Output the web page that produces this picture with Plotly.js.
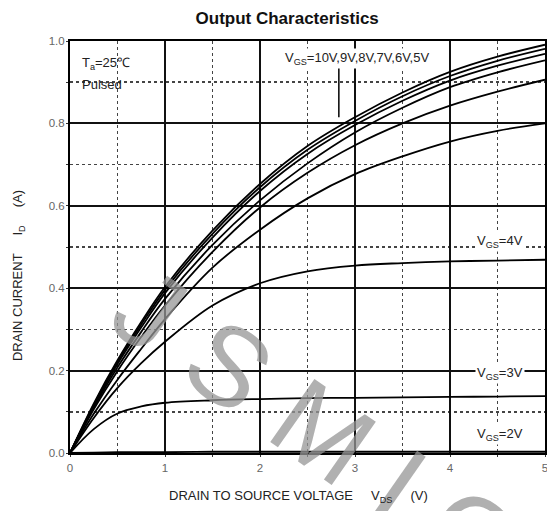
<!DOCTYPE html>
<html>
<head>
<meta charset="utf-8">
<script src="https://cdn.plot.ly/plotly-3.0.1.min.js"></script>
<style>html,body{margin:0;padding:0;background:#fff;}#chart{width:547px;height:511px;}</style>
</head>
<body>
<div id="chart"></div>
<script>
// Drain-source voltage samples (V)
const vds = [0, 0.25, 0.5, 0.75, 1, 1.5, 2, 2.5, 3, 3.5, 4, 4.5, 5];
// Drain current (A) for each gate voltage
const id10 = [0, 0.12, 0.225, 0.318, 0.403, 0.54, 0.653, 0.745, 0.815, 0.875, 0.925, 0.962, 0.991];
const id9  = [0, 0.117, 0.221, 0.312, 0.396, 0.532, 0.645, 0.736, 0.806, 0.866, 0.915, 0.952, 0.981];
const id8  = [0, 0.114, 0.216, 0.305, 0.388, 0.523, 0.636, 0.726, 0.796, 0.855, 0.904, 0.94, 0.969];
const id7  = [0, 0.11, 0.208, 0.294, 0.374, 0.505, 0.613, 0.703, 0.778, 0.838, 0.888, 0.924, 0.953];
const id6  = [0, 0.106, 0.199, 0.282, 0.358, 0.488, 0.596, 0.68, 0.747, 0.8, 0.843, 0.877, 0.906];
const id5  = [0, 0.095, 0.178, 0.253, 0.325, 0.45, 0.542, 0.618, 0.677, 0.72, 0.756, 0.782, 0.8];
const id4  = [0, 0.085, 0.158, 0.218, 0.27, 0.358, 0.412, 0.441, 0.455, 0.461, 0.465, 0.467, 0.469];
const id3  = [0, 0.058, 0.096, 0.113, 0.122, 0.128, 0.131, 0.133, 0.134, 0.135, 0.136, 0.137, 0.138];
const id2  = [0, 0.001, 0.002, 0.002, 0.002, 0.003, 0.003, 0.003, 0.003, 0.003, 0.003, 0.003, 0.003];
const seriesNames = ['10V','9V','8V','7V','6V','5V','4V','3V','2V'];
const seriesData = [id10, id9, id8, id7, id6, id5, id4, id3, id2];
const xTicks = [0, 1, 2, 3, 4, 5];
const yTicks = [0.0, 0.2, 0.4, 0.6, 0.8, 1.0];

const traces = seriesData.map((d, i) => ({
  x: vds, y: d, type: 'scatter', mode: 'lines', name: seriesNames[i],
  line: {color: '#000', width: 1.8, shape: 'spline', smoothing: 1},
  hoverinfo: 'skip'
}));

const FF = 'Liberation Sans, Arial, sans-serif';
const tickFont = {family: FF, size: 11.5, color: '#666'};
const labFont = {family: FF, size: 13, color: '#222'};

const layout = {
  width: 547, height: 511,
  margin: {l: 70, r: 2, t: 41, b: 58},
  paper_bgcolor: '#fff', plot_bgcolor: '#fff',
  showlegend: false,
  title: {text: '<b>Output Characteristics</b>', x: 0.525, xanchor: 'center', y: 0.965, yanchor: 'middle',
          font: {family: FF, size: 17, color: '#111'}},
  xaxis: {
    range: [0, 5], tickvals: xTicks, ticktext: xTicks.map(String),
    showgrid: true, gridcolor: '#111', gridwidth: 2,
    minor: {dtick: 0.5, showgrid: true, gridcolor: '#444', gridwidth: 1.5, griddash: 'dot', ticks: 'outside', ticklen: 2, tickcolor: '#333'},
    showline: true, linecolor: '#000', linewidth: 2, mirror: true,
    zeroline: false, ticks: '', tickfont: tickFont, ticklabelstandoff: 3, ticklabeloverflow: 'allow'
  },
  yaxis: {
    range: [0, 1], tickvals: yTicks, ticktext: yTicks.map(v => v.toFixed(1)),
    showgrid: true, gridcolor: '#111', gridwidth: 2,
    minor: {dtick: 0.1, showgrid: true, gridcolor: '#444', gridwidth: 1.5, griddash: 'dot', ticks: 'outside', ticklen: 2, tickcolor: '#333'},
    showline: true, linecolor: '#000', linewidth: 2, mirror: true,
    zeroline: false, ticks: '', tickfont: tickFont, ticklabelstandoff: 1, ticklabeloverflow: 'allow'
  },
  shapes: [
    {type: 'line', xref: 'x', yref: 'y', x0: 2.83, x1: 2.83, y0: 0.945, y1: 0.815, line: {color: '#000', width: 1.5}}
  ],
  annotations: [
    {text: 'J S M I C', xref: 'paper', yref: 'paper', x: 0.516, y: 0.064, xanchor: 'center', yanchor: 'middle', showarrow: false, textangle: 35,
     font: {family: FF, size: 112, color: 'rgba(150,150,150,0.75)'}},
    {text: 'DRAIN TO SOURCE VOLTAGE     V<sub>DS</sub>     (V)', xref: 'paper', yref: 'paper', x: 0.48, y: -0.105, yanchor: 'middle', showarrow: false, font: labFont},
    {text: 'DRAIN CURRENT     I<sub>D</sub>     (A)', xref: 'paper', yref: 'paper', x: -0.107, y: 0.43, xanchor: 'center', yanchor: 'middle', textangle: -90, showarrow: false, font: labFont},
    {text: 'T<sub>a</sub>=25℃', xref: 'paper', yref: 'paper', x: 0.02, y: 0.972, xanchor: 'left', showarrow: false, font: labFont},
    {text: 'Pulsed', xref: 'paper', yref: 'paper', x: 0.02, y: 0.917, xanchor: 'left', showarrow: false, font: labFont},
    {text: 'V<sub>GS</sub>=10V,9V,8V,7V,6V,5V', xref: 'paper', yref: 'paper', x: 0.448, y: 0.982, xanchor: 'left', showarrow: false, font: labFont, bgcolor: '#fff'},
    {text: 'V<sub>GS</sub>=4V', xref: 'paper', yref: 'paper', x: 0.905, y: 0.513, xanchor: 'center', showarrow: false, font: labFont, bgcolor: '#fff'},
    {text: 'V<sub>GS</sub>=3V', xref: 'paper', yref: 'paper', x: 0.905, y: 0.168, xanchor: 'center', showarrow: false, font: labFont, bgcolor: '#fff'},
    {text: 'V<sub>GS</sub>=2V', xref: 'paper', yref: 'paper', x: 0.905, y: 0.02, xanchor: 'center', showarrow: false, font: labFont, bgcolor: '#fff'}
  ]
};

Plotly.newPlot('chart', traces, layout, {displayModeBar: false, staticPlot: true});
</script>
</body>
</html>
